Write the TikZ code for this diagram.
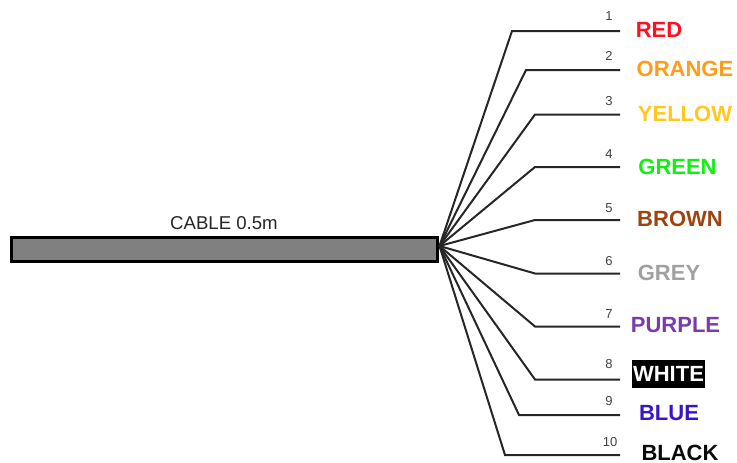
\documentclass[tikz,border=0pt]{standalone}
\usepackage{fontspec}
\setmainfont{Liberation Sans}
\definecolor{cred}{HTML}{FF0F1F}
\definecolor{corange}{HTML}{FF9C1A}
\definecolor{cyellow}{HTML}{FFC81E}
\definecolor{cgreen}{HTML}{12F012}
\definecolor{cbrown}{HTML}{9C4310}
\definecolor{cgrey}{HTML}{A0A0A0}
\definecolor{cpurple}{HTML}{7A3CA8}
\definecolor{cblue}{HTML}{3A14CC}
\definecolor{cblack}{HTML}{0A0A0A}
\tikzset{
  wire/.style={draw=black!85,line width=2pt,line join=miter},
  cablebox/.style={draw=black,line width=3pt,fill=black!50,minimum width=426pt,minimum height=24pt,inner sep=0pt,outer sep=0pt,anchor=north west},
  cabletext/.style={font=\fontsize{18.6}{20}\selectfont,text=black!85,inner sep=0pt},
  wirenum/.style={font=\fontsize{13}{15}\selectfont,text=black!75,inner sep=0pt},
  colourname/.style={font=\fontsize{22}{24}\selectfont\bfseries,inner sep=0pt},
}
\begin{document}
\begin{tikzpicture}[x=1pt,y=-1pt]
\useasboundingbox (0,0) rectangle (737,463);
\node[cablebox] (cable) at (11,237) {};
\node[cabletext] (cabletitle) at (224,223) {CABLE 0.5m};
\coordinate (hub) at (439.5,246);
\foreach \n/\bx/\by/\nx/\ny in {
  1/512/31/609/16,
  2/526/70/609/56,
  3/535/114.5/609/101,
  4/535/167/609/154,
  5/535/220/609/208,
  6/535/273.5/609/261,
  7/535/326.5/609/314,
  8/535/379.5/609/364,
  9/519/415/609/401,
  10/505/455/610/442}{
  \coordinate (bend\n) at (\bx,\by);
  \coordinate (end\n) at (620,\by);
  \draw[wire] (hub) -- (bend\n) -- (end\n);
  \node[wirenum] (num\n) at (\nx,\ny) {\n};
}
\node[colourname,text=cred] (red) at (659,29.5) {RED};
\node[colourname,text=corange] (orange) at (685,69) {ORANGE};
\node[colourname,text=cyellow] (yellow) at (685,114) {YELLOW};
\node[colourname,text=cgreen] (green) at (677.5,167) {GREEN};
\node[colourname,text=cbrown] (brown) at (680,219) {BROWN};
\node[colourname,text=cgrey] (grey) at (669,273) {GREY};
\node[colourname,text=cpurple] (purple) at (675.5,325.5) {PURPLE};
\node[colourname,fill=black,text=white,minimum width=73pt,minimum height=28pt] (white) at (668.5,374) {WHITE};
\node[colourname,text=cblue] (blue) at (669,413) {BLUE};
\node[colourname,text=cblack] (black) at (680,453) {BLACK};
\end{tikzpicture}
\end{document}
